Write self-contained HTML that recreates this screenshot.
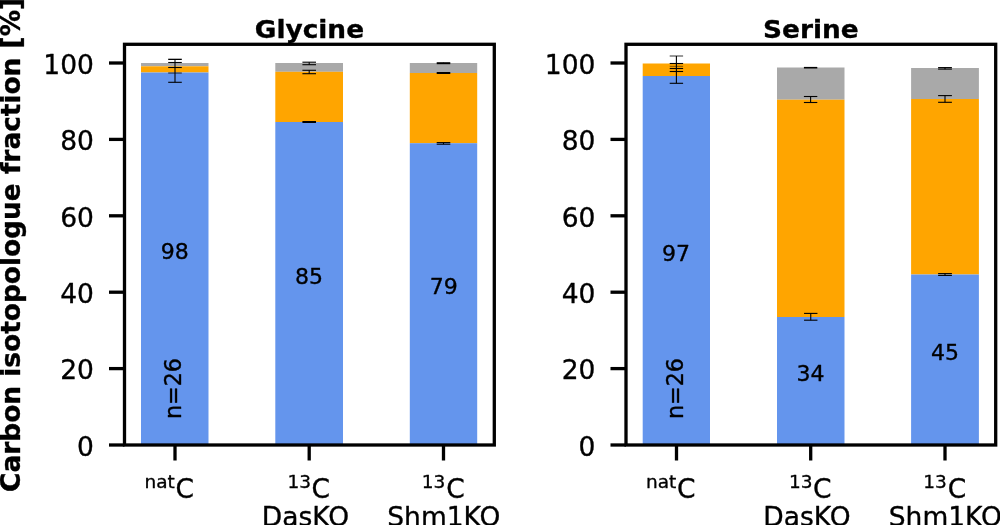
<!DOCTYPE html>
<html lang="en">
<head>
<meta charset="utf-8">
<title>Carbon isotopologue fraction: Glycine and Serine</title>
<style>
html,body{margin:0;padding:0;background:#fff;}
body{width:1000px;height:525px;overflow:hidden;}
svg{display:block;}
svg text{font-family:"DejaVu Sans","Liberation Sans",sans-serif;fill:#000;stroke:#000;stroke-width:0.35px;stroke-linejoin:round;}
</style>
</head>
<body>
<svg width="1000" height="525" viewBox="0 0 1000 525">
<rect x="0" y="0" width="1000" height="525" fill="#ffffff"/>
<text transform="translate(20.3,491.9) rotate(-90)" font-size="26.4" font-weight="bold">Carbon isotopologue fraction [%]</text>
<g>
<rect x="141.0" y="63.0" width="67.50" height="3.30" fill="#a9a9a9"/>
<rect x="141.0" y="66.3" width="67.50" height="6.20" fill="#ffa500"/>
<rect x="141.0" y="72.5" width="67.50" height="372.50" fill="#6495ed"/>
<rect x="275.3" y="63.0" width="67.70" height="8.80" fill="#a9a9a9"/>
<rect x="275.3" y="71.8" width="67.70" height="50.20" fill="#ffa500"/>
<rect x="275.3" y="122.0" width="67.70" height="323.00" fill="#6495ed"/>
<rect x="409.8" y="63.0" width="67.40" height="10.00" fill="#a9a9a9"/>
<rect x="409.8" y="73.0" width="67.40" height="70.20" fill="#ffa500"/>
<rect x="409.8" y="143.2" width="67.40" height="301.80" fill="#6495ed"/>
<line x1="175.0" y1="59.2" x2="175.0" y2="82.3" stroke="#000" stroke-width="1.1"/>
<line x1="168.2" y1="59.35" x2="181.8" y2="59.35" stroke="#000" stroke-width="1.3"/>
<line x1="168.2" y1="62.5" x2="181.8" y2="62.5" stroke="#000" stroke-width="1.1"/>
<line x1="168.2" y1="67.5" x2="181.8" y2="67.5" stroke="#000" stroke-width="1.1"/>
<line x1="168.2" y1="73.0" x2="181.8" y2="73.0" stroke="#000" stroke-width="0.8"/>
<line x1="168.2" y1="82.3" x2="181.8" y2="82.3" stroke="#000" stroke-width="1.1"/>
<line x1="309.2" y1="62.2" x2="309.2" y2="64.7" stroke="#000" stroke-width="1.1"/>
<line x1="302.4" y1="62.2" x2="316.0" y2="62.2" stroke="#000" stroke-width="1.1"/>
<line x1="302.4" y1="64.7" x2="316.0" y2="64.7" stroke="#000" stroke-width="1.1"/>
<line x1="309.2" y1="70.3" x2="309.2" y2="73.7" stroke="#000" stroke-width="1.1"/>
<line x1="302.4" y1="70.3" x2="316.0" y2="70.3" stroke="#000" stroke-width="1.1"/>
<line x1="302.4" y1="73.7" x2="316.0" y2="73.7" stroke="#000" stroke-width="1.1"/>
<line x1="309.2" y1="121.5" x2="309.2" y2="122.5" stroke="#000" stroke-width="1.1"/>
<line x1="302.4" y1="122.0" x2="316.0" y2="122.0" stroke="#000" stroke-width="2.0"/>
<line x1="443.5" y1="62.7" x2="443.5" y2="63.7" stroke="#000" stroke-width="1.1"/>
<line x1="436.7" y1="63.2" x2="450.3" y2="63.2" stroke="#000" stroke-width="2.0"/>
<line x1="443.5" y1="72.5" x2="443.5" y2="73.5" stroke="#000" stroke-width="1.1"/>
<line x1="436.7" y1="73.0" x2="450.3" y2="73.0" stroke="#000" stroke-width="2.0"/>
<line x1="443.5" y1="142.6" x2="443.5" y2="144.2" stroke="#000" stroke-width="1.1"/>
<line x1="436.7" y1="142.6" x2="450.3" y2="142.6" stroke="#000" stroke-width="1.1"/>
<line x1="436.7" y1="144.2" x2="450.3" y2="144.2" stroke="#000" stroke-width="1.1"/>
<line x1="109.0" y1="63" x2="124.5" y2="63" stroke="#000" stroke-width="3.3"/>
<line x1="109.0" y1="139.4" x2="124.5" y2="139.4" stroke="#000" stroke-width="3.3"/>
<line x1="109.0" y1="215.8" x2="124.5" y2="215.8" stroke="#000" stroke-width="3.3"/>
<line x1="109.0" y1="292.2" x2="124.5" y2="292.2" stroke="#000" stroke-width="3.3"/>
<line x1="109.0" y1="368.6" x2="124.5" y2="368.6" stroke="#000" stroke-width="3.3"/>
<line x1="109.0" y1="445.0" x2="124.5" y2="445.0" stroke="#000" stroke-width="3.3"/>
<line x1="175.0" y1="445.0" x2="175.0" y2="460.5" stroke="#000" stroke-width="3.3"/>
<line x1="309.2" y1="445.0" x2="309.2" y2="460.5" stroke="#000" stroke-width="3.3"/>
<line x1="443.5" y1="445.0" x2="443.5" y2="460.5" stroke="#000" stroke-width="3.3"/>
<rect x="124.5" y="44.3" width="369.80" height="400.70" fill="none" stroke="#000" stroke-width="3.3" stroke-linejoin="miter"/>
<text x="93.90" y="73.80" text-anchor="end" font-size="26.5">100</text>
<text x="93.90" y="150.20" text-anchor="end" font-size="26.5">80</text>
<text x="93.90" y="226.60" text-anchor="end" font-size="26.5">60</text>
<text x="93.90" y="303.00" text-anchor="end" font-size="26.5">40</text>
<text x="93.90" y="379.40" text-anchor="end" font-size="26.5">20</text>
<text x="93.90" y="455.80" text-anchor="end" font-size="26.5">0</text>
<text transform="translate(309.4,38.4) scale(1,0.965)" text-anchor="middle" font-size="26.4" font-weight="bold">Glycine</text>
<text x="174.8" y="259.0" text-anchor="middle" font-size="22.0">98</text>
<text x="309.1" y="283.6" text-anchor="middle" font-size="22.0">85</text>
<text x="443.75" y="294.3" text-anchor="middle" font-size="22.0">79</text>
<text transform="translate(181.2,388.5) rotate(-90) scale(1,1.07)" text-anchor="middle" font-size="22.2">n=26</text>
<text x="144.5" y="488.2" font-size="18.5">nat</text><text x="175.4" y="498.4" font-size="26.5">C</text>
<text x="287.6" y="488.2" font-size="18.5">13</text><text x="311.5" y="498.4" font-size="26.5">C</text><text x="261.8" y="525.8" font-size="26.5">DasKO</text>
<text x="421.8" y="488.2" font-size="18.5">13</text><text x="446.2" y="498.4" font-size="26.5">C</text><text x="387.3" y="525.8" font-size="26.5">Shm1KO</text>
</g>
<g>
<rect x="642.7" y="63.5" width="67.30" height="12.50" fill="#ffa500"/>
<rect x="642.7" y="76.0" width="67.30" height="369.00" fill="#6495ed"/>
<rect x="777.0" y="67.5" width="67.50" height="32.20" fill="#a9a9a9"/>
<rect x="777.0" y="99.7" width="67.50" height="217.30" fill="#ffa500"/>
<rect x="777.0" y="317.0" width="67.50" height="128.00" fill="#6495ed"/>
<rect x="911.1" y="68.0" width="67.80" height="31.00" fill="#a9a9a9"/>
<rect x="911.1" y="99.0" width="67.80" height="175.50" fill="#ffa500"/>
<rect x="911.1" y="274.5" width="67.80" height="170.50" fill="#6495ed"/>
<line x1="676.4" y1="56.0" x2="676.4" y2="83.3" stroke="#000" stroke-width="1.1"/>
<line x1="669.6999999999999" y1="56.0" x2="683.1" y2="56.0" stroke="#000" stroke-width="0.8"/>
<line x1="669.6999999999999" y1="63.5" x2="683.1" y2="63.5" stroke="#000" stroke-width="1.1"/>
<line x1="669.6999999999999" y1="66.3" x2="683.1" y2="66.3" stroke="#000" stroke-width="0.5"/>
<line x1="669.6999999999999" y1="68.5" x2="683.1" y2="68.5" stroke="#000" stroke-width="1.1"/>
<line x1="669.6999999999999" y1="71.5" x2="683.1" y2="71.5" stroke="#000" stroke-width="1.1"/>
<line x1="669.6999999999999" y1="83.3" x2="683.1" y2="83.3" stroke="#000" stroke-width="1.1"/>
<line x1="810.6" y1="67.5" x2="810.6" y2="68.0" stroke="#000" stroke-width="1.1"/>
<line x1="803.9" y1="67.7" x2="817.3000000000001" y2="67.7" stroke="#000" stroke-width="1.6"/>
<line x1="810.6" y1="96.5" x2="810.6" y2="102.5" stroke="#000" stroke-width="1.1"/>
<line x1="803.9" y1="96.5" x2="817.3000000000001" y2="96.5" stroke="#000" stroke-width="1.1"/>
<line x1="803.9" y1="102.5" x2="817.3000000000001" y2="102.5" stroke="#000" stroke-width="1.1"/>
<line x1="810.75" y1="313.4" x2="810.75" y2="320.2" stroke="#000" stroke-width="1.1"/>
<line x1="804.05" y1="313.4" x2="817.45" y2="313.4" stroke="#000" stroke-width="1.1"/>
<line x1="804.05" y1="320.2" x2="817.45" y2="320.2" stroke="#000" stroke-width="1.1"/>
<line x1="945.0" y1="67.5" x2="945.0" y2="69.2" stroke="#000" stroke-width="1.1"/>
<line x1="938.1" y1="67.6" x2="951.9" y2="67.6" stroke="#000" stroke-width="1.1"/>
<line x1="938.1" y1="69.1" x2="951.9" y2="69.1" stroke="#000" stroke-width="1.1"/>
<line x1="945.0" y1="95.6" x2="945.0" y2="102.3" stroke="#000" stroke-width="1.1"/>
<line x1="938.1" y1="95.6" x2="951.9" y2="95.6" stroke="#000" stroke-width="1.1"/>
<line x1="938.1" y1="102.3" x2="951.9" y2="102.3" stroke="#000" stroke-width="1.1"/>
<line x1="945.0" y1="273.5" x2="945.0" y2="275.5" stroke="#000" stroke-width="1.1"/>
<line x1="938.1" y1="273.6" x2="951.9" y2="273.6" stroke="#000" stroke-width="1.1"/>
<line x1="938.1" y1="275.4" x2="951.9" y2="275.4" stroke="#000" stroke-width="1.1"/>
<line x1="610.5" y1="63" x2="626.0" y2="63" stroke="#000" stroke-width="3.3"/>
<line x1="610.5" y1="139.4" x2="626.0" y2="139.4" stroke="#000" stroke-width="3.3"/>
<line x1="610.5" y1="215.8" x2="626.0" y2="215.8" stroke="#000" stroke-width="3.3"/>
<line x1="610.5" y1="292.2" x2="626.0" y2="292.2" stroke="#000" stroke-width="3.3"/>
<line x1="610.5" y1="368.6" x2="626.0" y2="368.6" stroke="#000" stroke-width="3.3"/>
<line x1="610.5" y1="445.0" x2="626.0" y2="445.0" stroke="#000" stroke-width="3.3"/>
<line x1="676.5" y1="445.0" x2="676.5" y2="460.5" stroke="#000" stroke-width="3.3"/>
<line x1="810.7" y1="445.0" x2="810.7" y2="460.5" stroke="#000" stroke-width="3.3"/>
<line x1="945.0" y1="445.0" x2="945.0" y2="460.5" stroke="#000" stroke-width="3.3"/>
<rect x="626.0" y="44.3" width="369.70" height="400.70" fill="none" stroke="#000" stroke-width="3.3" stroke-linejoin="miter"/>
<text x="595.40" y="73.80" text-anchor="end" font-size="26.5">100</text>
<text x="595.40" y="150.20" text-anchor="end" font-size="26.5">80</text>
<text x="595.40" y="226.60" text-anchor="end" font-size="26.5">60</text>
<text x="595.40" y="303.00" text-anchor="end" font-size="26.5">40</text>
<text x="595.40" y="379.40" text-anchor="end" font-size="26.5">20</text>
<text x="595.40" y="455.80" text-anchor="end" font-size="26.5">0</text>
<text transform="translate(810.9,38.4) scale(1,0.965)" text-anchor="middle" font-size="26.4" font-weight="bold">Serine</text>
<text x="676.0" y="261.0" text-anchor="middle" font-size="22.0">97</text>
<text x="810.6" y="381.0" text-anchor="middle" font-size="22.0">34</text>
<text x="945.1" y="359.8" text-anchor="middle" font-size="22.0">45</text>
<text transform="translate(682.7,388.5) rotate(-90) scale(1,1.07)" text-anchor="middle" font-size="22.2">n=26</text>
<text x="646.0" y="488.2" font-size="18.5">nat</text><text x="676.9" y="498.4" font-size="26.5">C</text>
<text x="789.1" y="488.2" font-size="18.5">13</text><text x="813.0" y="498.4" font-size="26.5">C</text><text x="763.3" y="525.8" font-size="26.5">DasKO</text>
<text x="923.3" y="488.2" font-size="18.5">13</text><text x="947.7" y="498.4" font-size="26.5">C</text><text x="888.8" y="525.8" font-size="26.5">Shm1KO</text>
</g>
</svg>
</body>
</html>
